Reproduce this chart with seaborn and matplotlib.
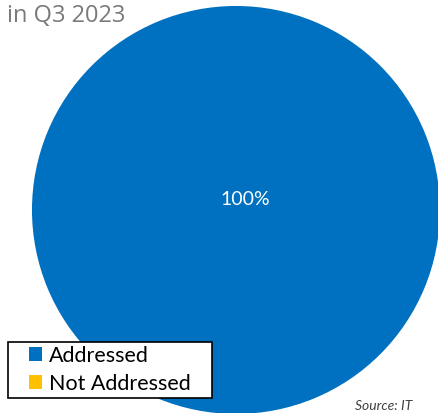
import matplotlib
matplotlib.use("Agg")
import matplotlib.pyplot as plt
import seaborn as sns
from matplotlib.patches import Patch, Rectangle

categories = ["Addressed", "Not Addressed"]
shares = [100, 0]
colors = ["#0070C0", "#FFC000"]
title_text = "in Q3 2023"
source_text = "Source: IT"

sns.set_theme(style="white")
plt.rcParams['font.family'] = ['Lato', 'DejaVu Sans']

W, H = 438, 413
fig = plt.figure(figsize=(W / 100, H / 100), dpi=100)
ax = fig.add_axes([0.073, -0.0024, 0.9315, 0.988])

wedges, texts, autotexts = ax.pie(
    shares, colors=colors, startangle=-132, counterclock=True,
    autopct=lambda p: f"{p:.0f}%" if p > 0 else "",
    pctdistance=0.07, radius=1.0,
    wedgeprops=dict(linewidth=0),
    textprops=dict(color="white", fontsize=14),
)
ax.set_xlim(-1, 1)
ax.set_ylim(-1, 1)
ax.set_aspect("equal")
ax.axis("off")

fig.text(7 / W, 1 - 4 / H, title_text, ha="left", va="top",
         fontsize=17, color="#7a7a7a", family=["Open Sans", "DejaVu Sans"])

# legend frame drawn separately so the side padding can differ from top padding
fig.patches.append(Rectangle((8 / W, 1 - 398 / H), 204 / W, 56 / H,
                             transform=fig.transFigure, facecolor="white",
                             edgecolor="black", linewidth=1.2, zorder=5))
handles = [Patch(facecolor=c, edgecolor="none") for c in colors]
leg = fig.legend(handles, categories, loc="upper left",
                 bbox_to_anchor=(29 / W, 1 - 346 / H),
                 frameon=False, fontsize=15.5, labelcolor="black",
                 handlelength=0.62, handleheight=0.62, handletextpad=0.3,
                 borderpad=0, labelspacing=0.36, borderaxespad=0)
leg.set_zorder(6)

fig.text(355 / W, 1 - 412 / H, source_text, ha="left", va="bottom",
         fontsize=10, style="italic", color="#404040")

fig.savefig("out.png", dpi=100)
